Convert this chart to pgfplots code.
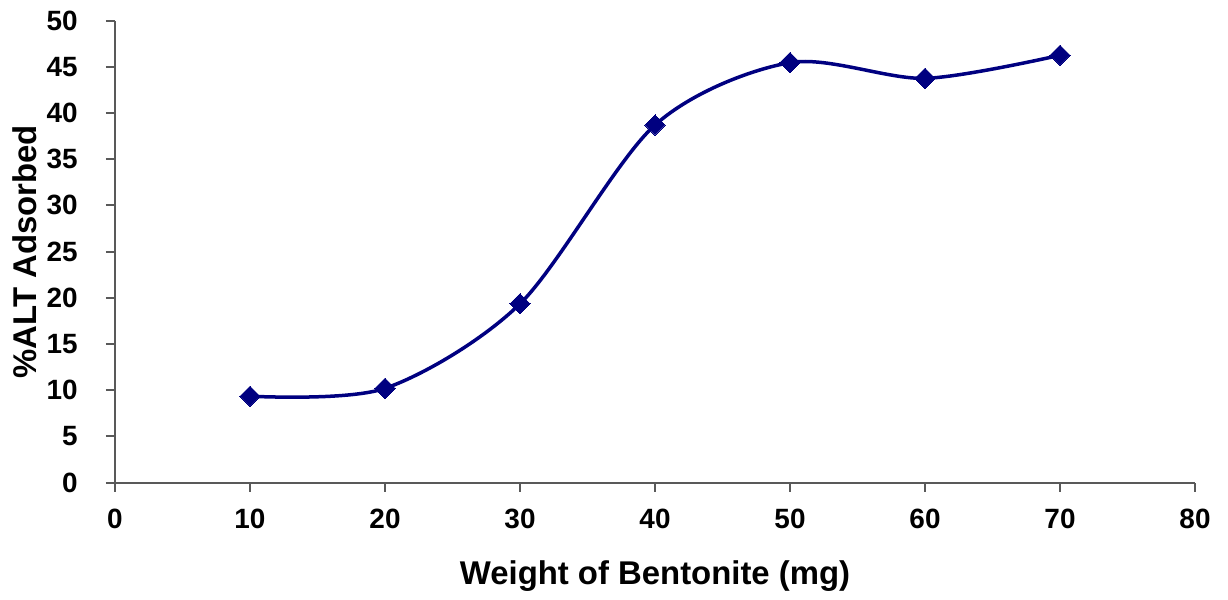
\documentclass[border=0pt]{standalone}
\usepackage{fontspec}
\setmainfont{Liberation Sans}
\usepackage{pgfplots}
\pgfplotsset{compat=1.18}
\definecolor{navy}{RGB}{0,0,128}
\begin{document}
\begin{tikzpicture}
\begin{axis}[
  name=ax,
  scale only axis,
  width=540bp, height=231bp,
  xmin=0, xmax=80, ymin=0, ymax=50,
  xtick={0,10,...,80}, ytick={0,5,...,50},
  axis x line*=bottom, axis y line*=left,
  axis line style={black!65, line width=1bp},
  tick style={black!65, line width=1bp},
  tick align=outside,
  major tick length=4.5bp,
  /pgf/number format/assume math mode=true,
  tick label style={font=\fontsize{14}{16}\selectfont\bfseries},
  xticklabel style={inner sep=0pt, anchor=north},
  yticklabel style={inner sep=0pt, anchor=east},
  xticklabel shift=8.5bp,
  yticklabel shift=14bp,
  xlabel={Weight of Bentonite (mg)},
  ylabel={\%ALT Adsorbed},
  label style={font=\fontsize{16.5}{19}\selectfont\bfseries},
  xlabel style={at={(rel axis cs:0.5,0)}, anchor=base, yshift=-51bp},
  ylabel style={at={(rel axis cs:0,0.5)}, anchor=center, rotate=0, yshift=45bp},
  clip=false,
]
\addplot[navy, line width=1.75bp, smooth, mark=square*, mark size=3.6bp,
  mark options={rotate=45, fill=navy, draw=navy, line width=0pt}]
  coordinates {(10,9.35) (20,10.2) (30,19.35) (40,38.7) (50,45.45) (60,43.75) (70,46.25)};
\end{axis}
\pgfresetboundingbox
\useasboundingbox ([xshift=-57.5bp,yshift=-58.2bp]ax.south west) rectangle ([xshift=16.5bp,yshift=10.3bp]ax.north east);
\end{tikzpicture}
\end{document}
